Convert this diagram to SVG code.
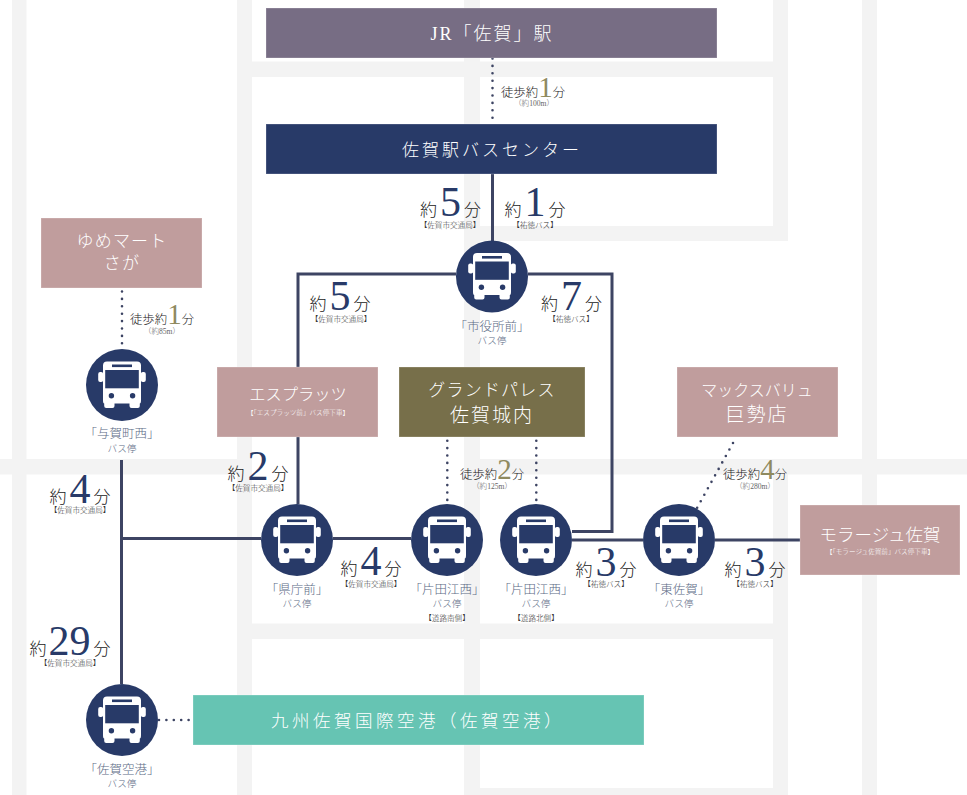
<svg xmlns="http://www.w3.org/2000/svg" width="967" height="795" viewBox="0 0 967 795">
<style>
text{font-family:"Liberation Serif","Noto Sans CJK JP",serif;text-anchor:middle;font-weight:300}
.road{fill:#f3f3f3}
.line{fill:none;stroke:#3d4463;stroke-width:3}
.dot{fill:none;stroke:#3d4463;stroke-width:2.6;stroke-linecap:round;stroke-dasharray:0 7.4}
.box{stroke:#fff;stroke-opacity:.25;stroke-width:1}
.w{fill:#fff}
.nm{font-size:17px;letter-spacing:1.2px}
.ns{font-size:6.6px}
.t{font-size:17px;fill:#222}
.d{font-size:42px;fill:#283a68}
.s{font-size:7.6px;fill:#333}
.wk{font-size:12.4px;fill:#222}
.wd{font-size:29px;fill:#8f8a5f}
.ws{font-size:7.6px;fill:#666}
.st{font-size:12.5px;fill:#5d6b85}
.bs{font-size:9.6px;fill:#5d6b85}
.rd{font-size:7.6px;fill:#333}
</style>
<defs>
<g id="bus">
<circle r="36" fill="#283a68"/>
<rect x="-23.8" y="-13" width="5" height="10" rx="2" fill="#fff"/>
<rect x="18.8" y="-13" width="5" height="10" rx="2" fill="#fff"/>
<path d="M-15-23.5H15Q19-23.500 19-19.500V15Q19 18.500 17.800 18.500V21Q17.800 23 15.800 23H9.500Q7.500 23 7.500 21V18.500H-7.500V21Q-7.500 23-9.500 23H-15.800Q-17.800 23-17.800 21V18.500Q-19 18.500-19 15V-19.500Q-19-23.500-15-23.500Z" fill="#fff"/>
<rect x="-16.800" y="-15" width="33.600" height="18.300" fill="#283a68"/>
<rect x="-10" y="-20.500" width="20" height="2.600" fill="#283a68"/>
<circle cx="-10.600" cy="10.700" r="2.700" fill="#283a68"/>
<circle cx="10.600" cy="10.700" r="2.700" fill="#283a68"/>
</g>
</defs>
<rect width="967" height="795" fill="#fff"/>
<g id="roads">
<rect class="road" x="12" y="0" width="14.500" height="795"/>
<rect class="road" x="237" y="0" width="15" height="795"/>
<rect class="road" x="464" y="0" width="16" height="795"/>
<rect class="road" x="862" y="0" width="15" height="795"/>
<rect class="road" x="773" y="0" width="15" height="241"/>
<rect class="road" x="773" y="459" width="15" height="336"/>
<rect class="road" x="252" y="61.500" width="536" height="15.500"/>
<rect class="road" x="464" y="226" width="324" height="15"/>
<rect class="road" x="0" y="459" width="252" height="15.500"/>
<rect class="road" x="464" y="459" width="503" height="15.500"/>
<rect class="road" x="237" y="623.500" width="551" height="15.500"/>
<rect class="road" x="464" y="788" width="324" height="7"/>
</g>
<g id="connectors">
<path class="line" d="M492.500 174V241M456 274H298V367M528 274H612V531.500H572M298 437V504M121.500 460V684M121.500 538.500H261M333 538.500H411M572 540H643M715 540H800"/>
<path class="dot" d="M492.500 58.500V122M122 291.500V347M447.300 440.700V503M536.300 440.700V503M733 443L697 508M159 720H191"/>
</g>
<g id="jr"><rect class="box" x="266" y="8" width="451" height="50" fill="#776d84"/><text class="w" x="492" y="40" font-size="18" letter-spacing="2">JR「佐賀」駅</text></g>
<g id="buscenter"><rect class="box" x="266" y="124" width="451" height="50" fill="#283a68"/><text class="w" x="492" y="155.500" font-size="17" letter-spacing="3">佐賀駅バスセンター</text></g>
<g id="yume"><rect class="box" x="41" y="218" width="161" height="70" fill="#c09d9d"/><text class="w nm" x="122" y="247">ゆめマート</text><text class="w nm" x="122" y="269">さが</text></g>
<g id="esplatz"><rect class="box" x="217" y="367" width="161" height="70" fill="#c09d9d"/><text class="w nm" x="298" y="400" style="font-size:16.300px;letter-spacing:0">エスプラッツ</text><text class="w ns" x="298" y="415">【「エスプラッツ前」バス停下車】</text></g>
<g id="grand"><rect class="box" x="399" y="367" width="186" height="70" fill="#776f4a"/><text class="w nm" x="492" y="396">グランドパレス</text><text class="w" x="492" y="422" font-size="19" letter-spacing="2">佐賀城内</text></g>
<g id="maxvalu"><rect class="box" x="677" y="367" width="161" height="70" fill="#c09d9d"/><text class="w" x="757" y="396" font-size="16">マックスバリュ</text><text class="w" x="757" y="421" font-size="19" letter-spacing="2">巨勢店</text></g>
<g id="morage"><rect class="box" x="800" y="505" width="160" height="70" fill="#c09d9d"/><text class="w" x="880" y="541" font-size="17.500">モラージュ佐賀</text><text class="w ns" x="880" y="554">【「モラージュ佐賀前」バス停下車】</text></g>
<g id="airport"><rect class="box" x="193" y="695" width="451" height="50" fill="#66c4b3"/><text class="w" x="418" y="727" font-size="17.500" letter-spacing="3.500">九州佐賀国際空港（佐賀空港）</text></g>
<g id="stop-shiyakusho"><use href="#bus" x="492" y="276.500"/><text class="st" x="492" y="331">「市役所前」</text><text class="bs" x="492" y="344">バス停</text></g>
<g id="stop-yoga"><use href="#bus" x="122" y="385"/><text class="st" x="122" y="438">「与賀町西」</text><text class="bs" x="122" y="452">バス停</text></g>
<g id="stop-kencho"><use href="#bus" x="297" y="540"/><text class="st" x="297" y="594">「県庁前」</text><text class="bs" x="297" y="607">バス停</text></g>
<g id="stop-katada-s"><use href="#bus" x="447" y="540"/><text class="st" x="447" y="594">「片田江西」</text><text class="bs" x="447" y="607">バス停</text><text class="rd" x="447" y="621">【道路南側】</text></g>
<g id="stop-katada-n"><use href="#bus" x="536" y="540"/><text class="st" x="536" y="594">「片田江西」</text><text class="bs" x="536" y="607">バス停</text><text class="rd" x="536" y="621">【道路北側】</text></g>
<g id="stop-higashi"><use href="#bus" x="679" y="540"/><text class="st" x="679" y="594">「東佐賀」</text><text class="bs" x="679" y="607">バス停</text></g>
<g id="stop-airport"><use href="#bus" x="122" y="720"/><text class="st" x="122" y="774">「佐賀空港」</text><text class="bs" x="122" y="787">バス停</text></g>
<g id="labels">
<text class="t" x="450.500" y="216">約<tspan class="d" dx="3">5</tspan><tspan dx="3">分</tspan></text><text class="s" x="450" y="228">【佐賀市交通局】</text>
<text class="t" x="535" y="216">約<tspan class="d" dx="3">1</tspan><tspan dx="3">分</tspan></text><text class="s" x="535" y="228">【祐徳バス】</text>
<text class="t" x="571.500" y="310">約<tspan class="d" dx="3">7</tspan><tspan dx="3">分</tspan></text><text class="s" x="571" y="322">【祐徳バス】</text>
<text class="t" x="340" y="310">約<tspan class="d" dx="3">5</tspan><tspan dx="3">分</tspan></text><text class="s" x="341" y="322">【佐賀市交通局】</text>
<text class="t" x="258" y="480">約<tspan class="d" dx="3">2</tspan><tspan dx="3">分</tspan></text><text class="s" x="258" y="491">【佐賀市交通局】</text>
<text class="t" x="371" y="575">約<tspan class="d" dx="3">4</tspan><tspan dx="3">分</tspan></text><text class="s" x="371" y="586.500">【佐賀市交通局】</text>
<text class="t" x="606" y="576">約<tspan class="d" dx="3">3</tspan><tspan dx="3">分</tspan></text><text class="s" x="606" y="586.500">【祐徳バス】</text>
<text class="t" x="755" y="576">約<tspan class="d" dx="3">3</tspan><tspan dx="3">分</tspan></text><text class="s" x="755" y="586.500">【祐徳バス】</text>
<text class="t" x="80" y="502.500">約<tspan class="d" dx="3">4</tspan><tspan dx="3">分</tspan></text><text class="s" x="80" y="513">【佐賀市交通局】</text>
<text class="t" x="70" y="655">約<tspan class="d" dx="2">29</tspan><tspan dx="3">分</tspan></text><text class="s" x="70" y="665.500">【佐賀市交通局】</text>
<text class="wk" x="533" y="96.500">徒歩約<tspan class="wd">1</tspan>分</text><text class="ws" x="534" y="106">（約100m）</text>
<text class="wk" x="162" y="324">徒歩約<tspan class="wd">1</tspan>分</text><text class="ws" x="162" y="333.500">（約85m）</text>
<text class="wk" x="492" y="479">徒歩約<tspan class="wd">2</tspan>分</text><text class="ws" x="492" y="489">（約125m）</text>
<text class="wk" x="755" y="479">徒歩約<tspan class="wd">4</tspan>分</text><text class="ws" x="755" y="489">（約280m）</text>
</g>
</svg>
